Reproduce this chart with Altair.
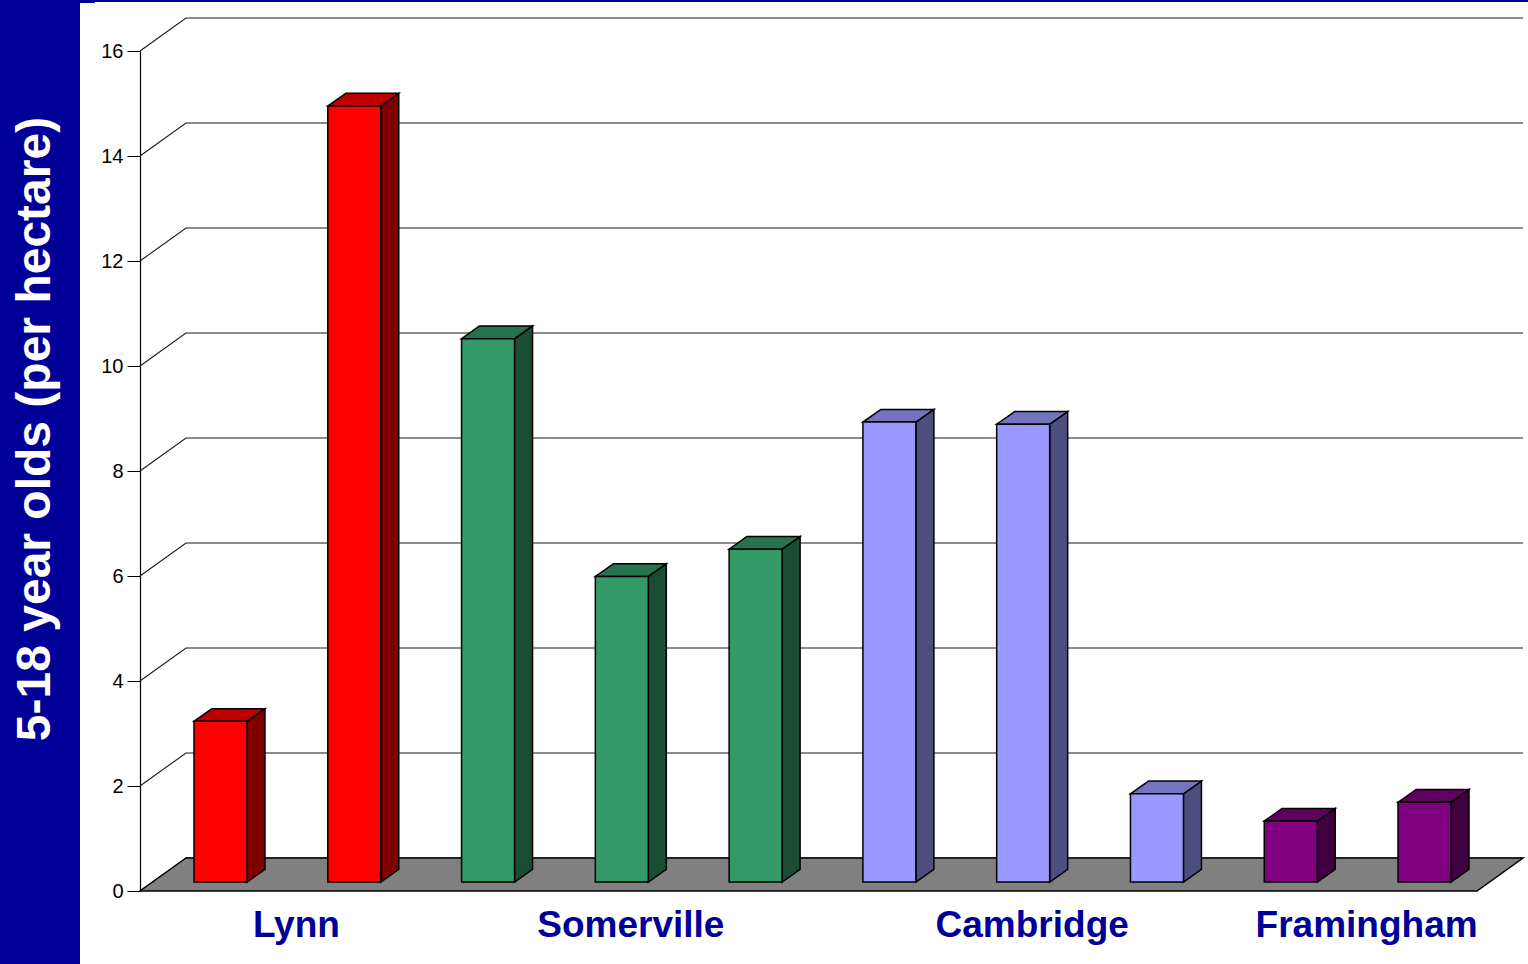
import altair as alt
import pandas as pd

# ---------------- data ----------------
towns = ["Lynn", "Lynn", "Somerville", "Somerville", "Somerville",
         "Cambridge", "Cambridge", "Cambridge", "Framingham", "Framingham"]
values = [3.06, 14.78, 10.35, 5.82, 6.34, 8.76, 8.72, 1.68, 1.16, 1.52]
town_order = ["Lynn", "Somerville", "Cambridge", "Framingham"]
front_colors = ["#FF0000", "#339966", "#9999FF", "#800080"]
side_colors = ["#800000", "#1A4D33", "#4D4D80", "#400040"]
top_colors = ["#BF0000", "#267350", "#7373BF", "#600060"]
tick_values = [0, 2, 4, 6, 8, 10, 12, 14, 16]
y_title = "5-18 year olds (per hectare)"

# ---------------- geometry (scale units) ----------------
X0, X1 = -0.6017, 9.7735      # x domain (bar index units)
HALF = 0.198                  # half width of a bar front
BASE = 0.171                  # bar base above floor front edge
DDX, DDY = 0.1345, 0.242      # bar depth
WDX, WDY = 0.3438, 0.6286     # wall / floor depth
FLOOR_R = 9.392               # right front corner of the floor
FONT = "Liberation Sans"
BLUE = "#000099"

xs = alt.Scale(domain=[X0, X1], nice=False, zero=False)
ys = alt.Scale(domain=[0, 16], nice=False, zero=False)
yaxis = alt.Axis(values=tick_values, tickSize=13, tickColor="black", domainColor="black",
                 tickWidth=1, domainWidth=1.2, labelFont=FONT, labelFontSize=20,
                 labelColor="black", labelPadding=4, labelOverlap=False, grid=False, title=None)


def X(f):
    return alt.X(f, scale=xs, axis=None)


def Y(f):
    return alt.Y(f, scale=ys, axis=yaxis)


fc = dict(zip(town_order, front_colors))
sc = dict(zip(town_order, side_colors))
tc = dict(zip(town_order, top_colors))

bars = pd.DataFrame({"i": range(len(values)), "town": towns, "v": values})
bars["xl"] = bars["i"] - HALF
bars["xr"] = bars["i"] + HALF
bars["y0"] = BASE
bars["y1"] = BASE + bars["v"]
bars["col"] = bars["town"].map(fc)

side_rows, top_rows = [], []
for _, r in bars.iterrows():
    side_rows.append({"i": int(r.i), "x": r.xr, "y": BASE, "y2": r.y1, "col": sc[r.town]})
    side_rows.append({"i": int(r.i), "x": r.xr + DDX, "y": BASE + DDY, "y2": r.y1 + DDY, "col": sc[r.town]})
    top_rows.append({"i": int(r.i), "y": r.y1, "x": r.xl, "x2": r.xr, "col": tc[r.town]})
    top_rows.append({"i": int(r.i), "y": r.y1 + DDY, "x": r.xl + DDX, "x2": r.xr + DDX, "col": tc[r.town]})
side_df = pd.DataFrame(side_rows)
top_df = pd.DataFrame(top_rows)

floor_df = pd.DataFrame([
    {"y": 0.0, "x": X0, "x2": FLOOR_R},
    {"y": WDY, "x": X0 + WDX, "x2": FLOOR_R + WDX},
])

grid_rows = []
for t in tick_values:
    grid_rows += [{"t": t, "x": X0, "y": t},
                  {"t": t, "x": X0 + WDX, "y": t + WDY},
                  {"t": t, "x": FLOOR_R + WDX, "y": t + WDY}]
grid_df = pd.DataFrame(grid_rows)

lab_df = bars.groupby("town", sort=False)["i"].mean().reset_index()
lab_df["x"] = lab_df["i"] + DDX / 2

# ---------------- layers ----------------
deco = pd.DataFrame({"a": [0]})
band = alt.Chart(deco).mark_rect(color=BLUE).encode(
    x=alt.value(-140), x2=alt.value(-60), y=alt.value(-51), y2=alt.value(913))
topline = alt.Chart(deco).mark_rect(color=BLUE).encode(
    x=alt.value(-60), x2=alt.value(1388), y=alt.value(-51), y2=alt.value(-49))
topnub = alt.Chart(deco).mark_rect(color=BLUE).encode(
    x=alt.value(-60), x2=alt.value(-45), y=alt.value(-51), y2=alt.value(-48))

title = alt.Chart(pd.DataFrame({"t": [y_title]})).mark_text(
    angle=270, align="center", baseline="alphabetic", font=FONT,
    fontSize=48, fontWeight="bold", color="white").encode(
    x=alt.value(-90), y=alt.value(378), text="t:N")

grid = alt.Chart(grid_df).mark_line(color="#1a1a1a", strokeWidth=1.1).encode(
    x=X("x:Q"), y=Y("y:Q"), detail="t:N")

floor = alt.Chart(floor_df).mark_area(
    orient="horizontal", color="#808080", stroke="black", strokeWidth=1.5).encode(
    y=Y("y:Q"), x=X("x:Q"), x2="x2:Q")

side = alt.Chart(side_df).mark_area(stroke="black", strokeWidth=1.5).encode(
    x=X("x:Q"), y=Y("y:Q"), y2="y2:Q",
    fill=alt.Fill("col:N", scale=None), detail="i:N")

top = alt.Chart(top_df).mark_area(orient="horizontal", stroke="black", strokeWidth=1.5).encode(
    y=Y("y:Q"), x=X("x:Q"), x2="x2:Q",
    fill=alt.Fill("col:N", scale=None), detail="i:N")

front = alt.Chart(bars).mark_rect(stroke="black", strokeWidth=1.5).encode(
    x=X("xl:Q"), x2="xr:Q", y=Y("y0:Q"), y2="y1:Q",
    fill=alt.Fill("col:N", scale=None))

labels = alt.Chart(lab_df).mark_text(
    font=FONT, fontSize=37, fontWeight="bold", color=BLUE,
    align="center", baseline="alphabetic").encode(
    x=X("x:Q"), y=alt.value(886), text="town:N")

chart = alt.layer(band, topline, topnub, title, grid, floor, side, top, front, labels).properties(
    width=1388, height=840,
    padding={"left": 140, "top": 51, "right": 0, "bottom": 73},
    autosize="none",
    background="white",
).configure_view(stroke=None)

chart.save("out.html", embed_options={"renderer": "svg", "actions": False})
